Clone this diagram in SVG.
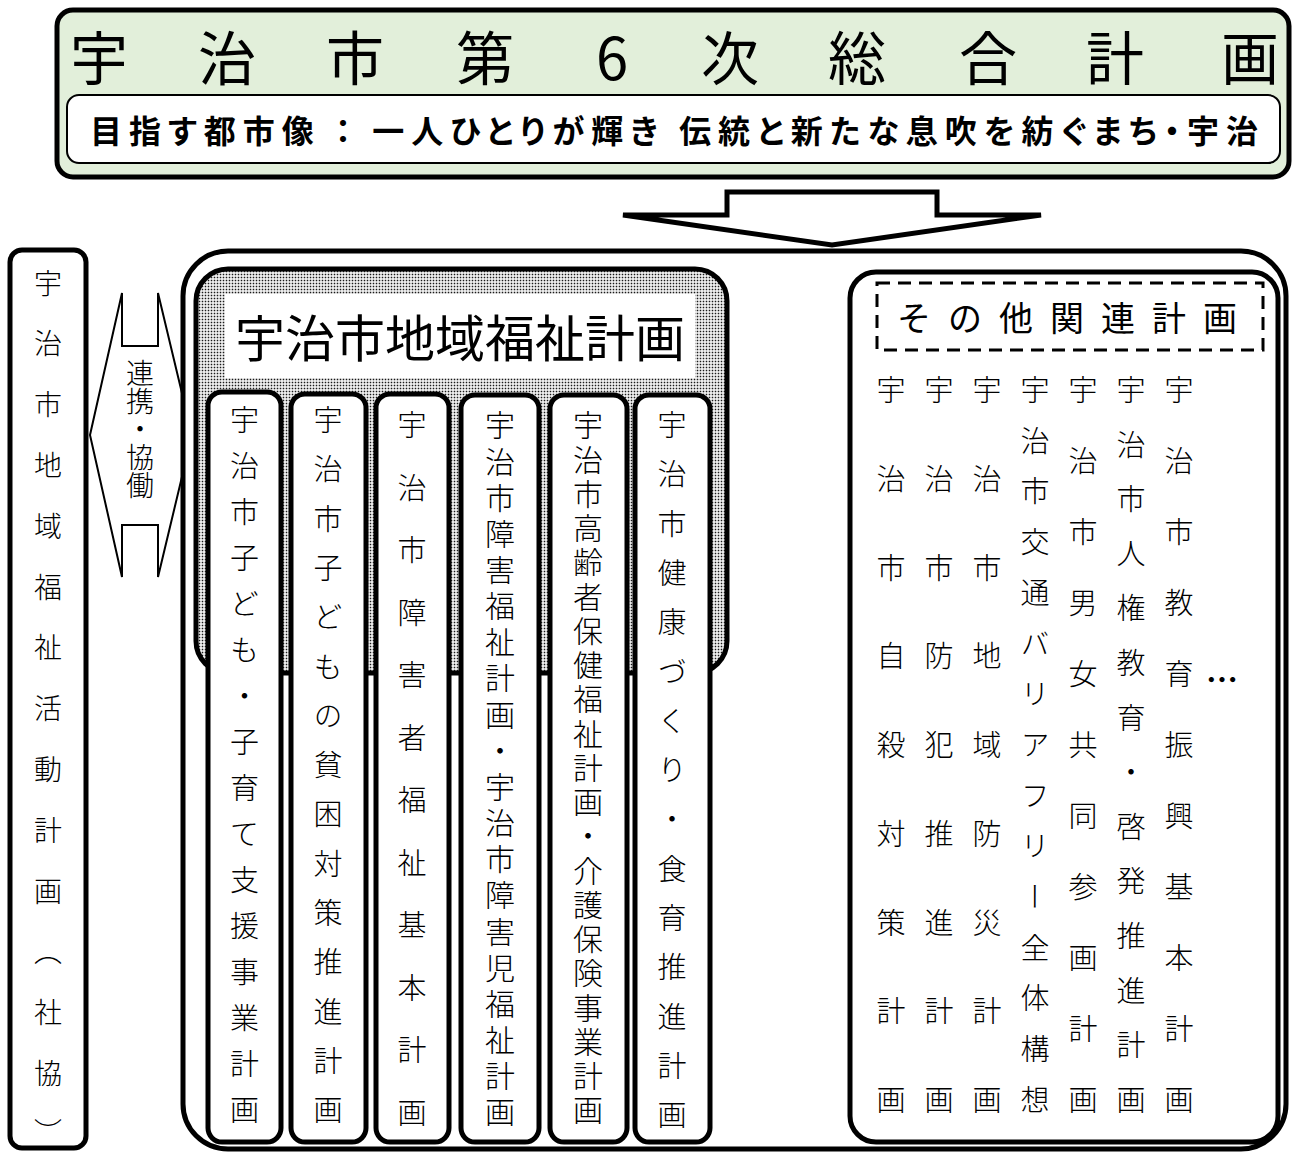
<svg xmlns="http://www.w3.org/2000/svg" width="1293" height="1153" viewBox="0 0 1293 1153">
<defs>
<pattern id="dots" width="3" height="3" patternUnits="userSpaceOnUse">
<rect width="3" height="3" fill="#ffffff"/>
<rect x="0.7" y="0.7" width="1.6" height="1.6" fill="#1a1a1a"/>
</pattern>
<style>
.jp{font-family:"Noto Sans CJK JP","Noto Sans CJK SC",sans-serif;fill:#000}
.v{writing-mode:vertical-rl;font-family:"Noto Sans CJK JP","Noto Sans CJK SC",sans-serif;fill:#000;font-weight:300}
.box{fill:#fff;stroke:#000;stroke-width:5}
.conn{fill:#fff;stroke:#000;stroke-width:2;stroke-linejoin:miter}
</style>
</defs>
<rect width="1293" height="1153" fill="#fff"/>

<g id="master-plan">
<rect x="57" y="10" width="1232" height="167" rx="16" fill="#e2efda" stroke="#000" stroke-width="5"/>
<text class="jp" font-size="58" text-anchor="middle" x="99 227 355 485 612 730 857 988 1115 1250" y="80">宇治市第6次総合計画</text>
<rect x="67" y="95" width="1213" height="68" rx="12" fill="#fff" stroke="#000" stroke-width="2"/>
<text class="jp" font-size="32" font-weight="bold" x="90" y="143" textLength="1168" lengthAdjust="spacing" style="font-feature-settings:'palt'">目指す都市像 ： 一人ひとりが輝き 伝統と新たな息吹を紡ぐまち・宇治</text>
</g>

<g id="connectors">
<path d="M623,215 L727,215 L727,192 L937,192 L937,215 L1041,215 L832,245 Z" fill="#fff" stroke="#000" stroke-width="5" stroke-linejoin="miter"/>
<path class="conn" d="M122,293 L122,346 L158,346 L158,293 L192,435 L158,577 L158,525 L122,525 L122,577 L90,435 Z"/>
<text class="v" font-size="28" x="140" y="359">連携・協働</text>
<path class="conn" d="M772,398 L772,455 L808,455 L808,398 L846,552 L808,708 L808,650 L772,650 L772,708 L733,552 Z"/>
<text class="v" font-size="30" x="790" y="478">整合・連携</text>
</g>

<g id="shakyo-plan">
<rect class="box" x="10" y="250" width="76" height="898" rx="12"/>
<text class="v" font-size="28" x="48" y="269 329.8 390.6 451.4 512.2 573 633.8 694.6 755.4 816.2 877 937.8 998.6 1059.4 1118">宇治市地域福祉活動計画（社協）</text>
</g>

<g id="outer-frame">
<rect x="183" y="251" width="1103" height="898" rx="45" fill="#fff" stroke="#000" stroke-width="5"/>
</g>

<g id="welfare-plan">
<rect x="196" y="269" width="531" height="404" rx="32" fill="url(#dots)" stroke="#000" stroke-width="5"/>
<rect x="225" y="294" width="470" height="84" fill="#fff"/>
<text class="jp" font-size="50" x="235" y="357">宇治市地域福祉計画</text>
</g>

<g id="col1">
<rect class="box" x="208" y="392" width="73" height="750" rx="14"/>
<text class="v" font-size="29" x="244.5" y="405.5 451.5 497.5 543.5 589.5 635.5 681.5 727.5 773.5 819.5 865.5 911.5 957.5 1003.5 1049.5 1095.5">宇治市子ども・子育て支援事業計画</text>
</g>
<g id="col2">
<rect class="box" x="291" y="394" width="75" height="748" rx="14"/>
<text class="v" font-size="29" x="328" y="405.5 454.8 504.1 553.4 602.7 652 701.3 750.6 799.9 849.2 898.5 947.8 997.1 1046.4 1095.7">宇治市子どもの貧困対策推進計画</text>
</g>
<g id="col3">
<rect class="box" x="376" y="394" width="73" height="748" rx="14"/>
<text class="v" font-size="29" x="412" y="410.5 473 535.5 598 660.5 723 785.5 848 910.5 973 1035.5 1098">宇治市障害者福祉基本計画</text>
</g>
<g id="col4">
<rect class="box" x="461" y="395" width="78" height="747" rx="14"/>
<text class="v" font-size="30" x="500" y="410 446.2 482.3 518.5 554.6 590.8 627 663.1 699.3 735.4 771.6 807.8 843.9 880.1 916.2 952.4 988.6 1024.7 1060.9 1097">宇治市障害福祉計画・宇治市障害児福祉計画</text>
</g>
<g id="col5">
<rect class="box" x="550" y="395" width="77" height="747" rx="14"/>
<text class="v" font-size="30" x="588" y="410 444.3 478.5 512.8 547 581.3 615.5 649.8 684 718.3 752.5 786.8 821 855.3 889.5 923.8 958 992.3 1026.5 1060.8 1095">宇治市高齢者保健福祉計画・介護保険事業計画</text>
</g>
<g id="col6">
<rect class="box" x="635" y="395" width="75" height="747" rx="14"/>
<text class="v" font-size="29" x="672" y="410.5 459.8 509.1 558.4 607.7 657 706.3 755.6 804.9 854.2 903.5 952.8 1002.1 1051.4 1100.7">宇治市健康づくり・食育推進計画</text>
</g>

<g id="other-plans">
<rect class="box" x="850" y="272" width="428" height="870" rx="26"/>
<rect x="877" y="283" width="386" height="67" fill="none" stroke="#000" stroke-width="3" stroke-dasharray="13,8"/>
<text class="jp" font-size="34" x="897" y="331" letter-spacing="17">その他関連計画</text>
<text class="v" font-size="29" x="891" y="375.5 464.25 553 641.75 730.5 819.25 908 996.75 1085.5">宇治市自殺対策計画</text>
<text class="v" font-size="29" x="939" y="375.5 464.25 553 641.75 730.5 819.25 908 996.75 1085.5">宇治市防犯推進計画</text>
<text class="v" font-size="29" x="987" y="375.5 464.25 553 641.75 730.5 819.25 908 996.75 1085.5">宇治市地域防災計画</text>
<text class="v" font-size="29" x="1035" y="375.5 426.2 476.9 527.6 578.3 629 679.7 730.4 781.1 831.8 882.5 933.2 983.9 1034.6 1085.3">宇治市交通バリアフリー全体構想</text>
<text class="v" font-size="29" x="1083" y="375.5 446.5 517.5 588.5 659.5 730.5 801.5 872.5 943.5 1014.5 1085.5">宇治市男女共同参画計画</text>
<text class="v" font-size="29" x="1131" y="375.5 430.1 484.7 539.3 593.9 648.5 703.1 757.7 812.3 866.9 921.5 976.1 1030.7 1085.3">宇治市人権教育・啓発推進計画</text>
<text class="v" font-size="29" x="1179" y="375.5 446.5 517.5 588.5 659.5 730.5 801.5 872.5 943.5 1014.5 1085.5">宇治市教育振興基本計画</text>
<text class="jp" font-size="32" font-weight="bold" x="1222" y="692" text-anchor="middle">…</text>
</g>
</svg>
